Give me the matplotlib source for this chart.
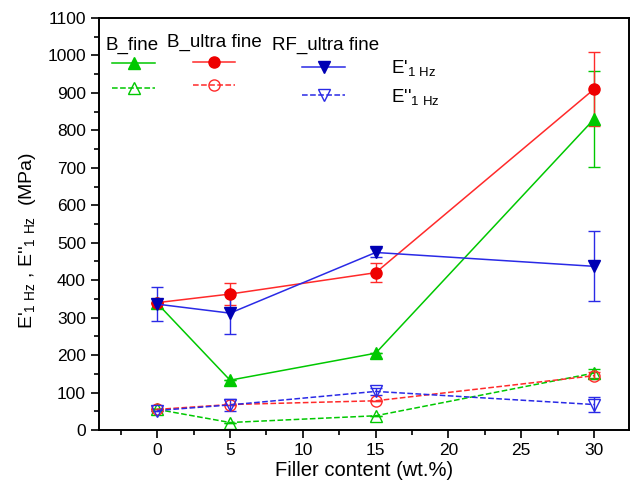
import numpy as np
import matplotlib.pyplot as plt
from matplotlib.ticker import MultipleLocator
from matplotlib.lines import Line2D

plt.rcParams['font.family'] = ['Liberation Sans', 'DejaVu Sans']
plt.rcParams['mathtext.default'] = 'regular'

filler = [0, 5, 15, 30]

# storage modulus E' (MPa)
bfine_E1 = [338, 133, 205, 830]
bfine_E1_err = [0, 0, 0, 129]
bufine_E1 = [340, 363, 420, 910]
bufine_E1_err = [0, 30, 25, 98]
rf_E1 = [336, 312, 474, 437]
rf_E1_err = [45, 57, 12, 93]

# loss modulus E'' (MPa)
bfine_E2 = [55, 20, 38, 152]
bfine_E2_err = [0, 0, 0, 12]
bufine_E2 = [55, 68, 78, 145]
bufine_E2_err = [0, 0, 0, 10]
rf_E2 = [52, 67, 103, 68]
rf_E2_err = [0, 17, 10, 20]

green = '#00c800'
red = '#ff2a2a'
blue = '#2a2ae6'
red_m = '#ee0000'
blue_m = '#0000b4'

fig = plt.figure(figsize=(6.43, 4.87), dpi=100)
ax = fig.add_axes([99/643, 1-430/487, 530/643, 412/487])

def series(y, err, color, mfc, mec, marker, ls):
    ax.errorbar(filler, y, yerr=err, color=color, ls=ls, lw=1.1,
                marker=marker, ms=8, mfc=mfc, mec=mec, mew=1.0,
                capsize=4, elinewidth=1.0, capthick=1.0)

series(bfine_E1, bfine_E1_err, green, green, green, '^', '-')
series(bufine_E1, bufine_E1_err, red, red_m, red_m, 'o', '-')
series(rf_E1, rf_E1_err, blue, blue_m, blue_m, 'v', '-')
series(bfine_E2, bfine_E2_err, green, 'none', green, '^', '--')
series(bufine_E2, bufine_E2_err, red, 'none', red, 'o', '--')
series(rf_E2, rf_E2_err, blue, 'none', blue, 'v', '--')

ax.set_xlim(-4, 32.4)
ax.set_ylim(0, 1100)
ax.xaxis.set_major_locator(MultipleLocator(5))
ax.xaxis.set_minor_locator(MultipleLocator(2.5))
ax.yaxis.set_major_locator(MultipleLocator(100))
ax.yaxis.set_minor_locator(MultipleLocator(50))
ax.tick_params(which='both', direction='out', top=False, right=False, labelsize=12.5)
ax.tick_params(which='major', length=6, width=1.2)
ax.tick_params(which='minor', length=3.5, width=1.2)
for s in ax.spines.values():
    s.set_linewidth(1.4)

ax.set_xlabel('Filler content (wt.%)', fontsize=14.5, labelpad=2)
ax.set_ylabel("E'$_{1\\ Hz}$ , E''$_{1\\ Hz}$  (MPa)", fontsize=14)
ax.yaxis.set_label_coords(-0.115, 0.46)

# legend built by hand
def fx(px):
    return (px - 99) / 530

def fy(py):
    return (430 - py) / 412

lfs = 13.5
ax.text(fx(106), fy(45), 'B_fine', transform=ax.transAxes, fontsize=lfs, va='center')
ax.text(fx(167), fy(42), 'B_ultra fine', transform=ax.transAxes, fontsize=lfs, va='center')
ax.text(fx(272), fy(45), 'RF_ultra fine', transform=ax.transAxes, fontsize=lfs, va='center')
ax.text(fx(391), fy(68), "E'$_{1\\ Hz}$", transform=ax.transAxes, fontsize=lfs, va='center')
ax.text(fx(391), fy(97), "E''$_{1\\ Hz}$", transform=ax.transAxes, fontsize=lfs, va='center')

samples = [
    (112, 155, 63, green, green, green, '^', '-'),
    (112, 155, 88, green, 'none', green, '^', '--'),
    (193, 235, 62, red, red_m, red_m, 'o', '-'),
    (193, 235, 85, red, 'none', red, 'o', '--'),
    (302, 345, 67, blue, blue_m, blue_m, 'v', '-'),
    (302, 345, 95, blue, 'none', blue, 'v', '--'),
]
for x0, x1, py, c, mfc, mec, m, ls in samples:
    ax.add_line(Line2D([fx(x0), fx(x1)], [fy(py), fy(py)], transform=ax.transAxes,
                       color=c, ls=ls, lw=1.1))
    ax.add_line(Line2D([fx((x0 + x1) / 2)], [fy(py)], transform=ax.transAxes,
                       marker=m, ms=8, mfc=mfc, mec=mec, ls='none'))

fig.savefig('out.png', dpi=100)
